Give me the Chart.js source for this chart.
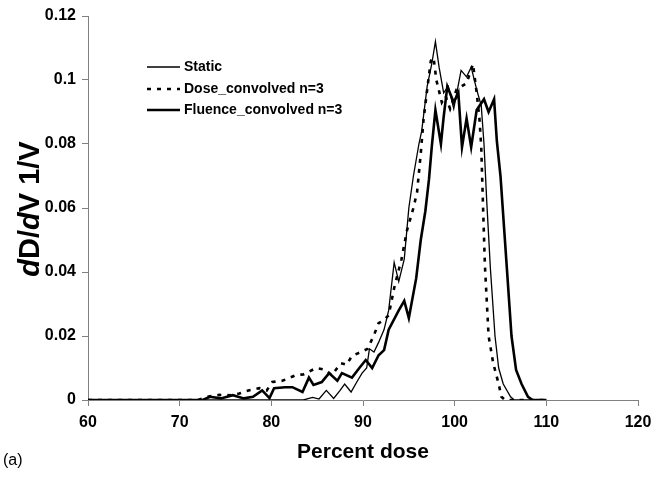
<!DOCTYPE html>
<html>
<head>
<meta charset="utf-8">
<script src="https://cdn.jsdelivr.net/npm/chart.js@4.4.0/dist/chart.umd.min.js"></script>
<style>
  html, body { margin: 0; padding: 0; background: #fff; }
  #wrap { width: 651px; height: 477px; position: relative; }
</style>
</head>
<body>
<div id="wrap"><canvas id="dvh" width="651" height="477"></canvas></div>
<script>
// Data (percent dose, dD/dV)
var staticDose = [60, 83.5, 84.5, 85.2, 86, 86.8, 87.5, 88, 88.7, 89.4, 89.9, 90.4, 90.7, 91.2, 91.7, 92.3, 92.8, 93.4, 93.9, 94.5, 95, 95.5, 96.1, 96.4, 97, 97.5, 97.9, 98.3, 98.8, 99.3, 99.9, 100.3, 100.7, 101.3, 101.8, 102.4, 102.9, 103.2, 103.5, 103.9, 104.4, 104.8, 105.3, 106.1, 106.5, 110];
var staticVal = [0, 0, 0.0008, 0.0003, 0.003, 0.0005, 0.003, 0.005, 0.0025, 0.006, 0.0084, 0.01, 0.016, 0.015, 0.018, 0.022, 0.028, 0.043, 0.037, 0.044, 0.06, 0.07, 0.08, 0.084, 0.098, 0.105, 0.112, 0.104, 0.096, 0.098, 0.091, 0.097, 0.103, 0.101, 0.104, 0.097, 0.092, 0.08, 0.062, 0.041, 0.02, 0.01, 0.005, 0.001, 0, 0];

var doseConvDose = [60, 72, 73, 74.3, 75.5, 76.5, 77.5, 78.7, 79.5, 80.1, 81.2, 82.7, 83.5, 84.9, 85.8, 86.6, 87.6, 88.2, 88.8, 89.8, 90.5, 91.2, 91.7, 92.3, 92.8, 93.4, 94.2, 94.8, 95.5, 95.9, 96.3, 96.6, 97, 97.4, 97.7, 98, 98.6, 99, 99.5, 100.2, 101.3, 102, 102.4, 102.7, 102.9, 103.1, 103.3, 103.7, 104.2, 104.8, 105.1, 105.5, 110];
var doseConvVal = [0, 0, 0.001, 0.0016, 0.0015, 0.002, 0.003, 0.0037, 0.003, 0.0056, 0.006, 0.0078, 0.008, 0.01, 0.0095, 0.0078, 0.0115, 0.011, 0.0138, 0.015, 0.016, 0.0203, 0.024, 0.025, 0.0265, 0.035, 0.044, 0.053, 0.06, 0.065, 0.077, 0.0875, 0.097, 0.106, 0.107, 0.1, 0.093, 0.095, 0.091, 0.097, 0.099, 0.105, 0.096, 0.088, 0.079, 0.06, 0.042, 0.02, 0.0116, 0.005, 0.001, 0, 0];

var fluenceDose = [60, 72.5, 73.3, 74.5, 75.8, 77, 78, 79, 79.8, 80.3, 81.5, 82.3, 83.4, 84.1, 84.6, 85.5, 86.3, 87.2, 87.7, 88.8, 89.6, 90.3, 91, 91.7, 92.3, 92.8, 93.9, 94.5, 95, 95.8, 96.3, 96.8, 97.2, 97.5, 97.9, 98.5, 98.8, 99.2, 99.9, 100.4, 100.8, 101.3, 101.8, 102.4, 103.2, 103.7, 104.3, 104.6, 105, 105.7, 106.2, 106.7, 107.3, 108, 108.5, 110];
var fluenceVal = [0, 0, 0.001, 0.0005, 0.0015, 0.0005, 0.001, 0.003, 0.0006, 0.0037, 0.004, 0.004, 0.0025, 0.007, 0.0047, 0.0056, 0.0084, 0.006, 0.0084, 0.007, 0.01, 0.0125, 0.01, 0.014, 0.0156, 0.022, 0.028, 0.031, 0.0256, 0.038, 0.05, 0.059, 0.069, 0.079, 0.0906, 0.08, 0.0885, 0.098, 0.093, 0.096, 0.079, 0.088, 0.079, 0.0906, 0.094, 0.09, 0.094, 0.081, 0.07, 0.041, 0.02, 0.0094, 0.005, 0.001, 0, 0];

var seriesNames = ['Static', 'Dose_convolved n=3', 'Fluence_convolved n=3'];
var xTicks = [60, 70, 80, 90, 100, 110, 120];
var yTicks = [0, 0.02, 0.04, 0.06, 0.08, 0.1, 0.12];

function toPoints(xs, ys) {
  var pts = [];
  for (var i = 0; i < xs.length; i++) pts.push({ x: xs[i], y: ys[i] });
  return pts;
}

var FONT = '"Liberation Sans", Arial, sans-serif';
var AXIS_GREY = '#808080';

// legend, y title and panel label drawn on the canvas
var extras = {
  id: 'extras',
  afterDraw: function (chart) {
    var ctx = chart.ctx;
    var sets = chart.data.datasets;
    ctx.save();
    ctx.font = 'bold 14px ' + FONT;
    ctx.textBaseline = 'middle';
    ctx.fillStyle = '#000';
    var rows = [67, 89, 110];
    for (var i = 0; i < sets.length; i++) {
      var y = rows[i];
      ctx.beginPath();
      ctx.strokeStyle = '#000';
      ctx.lineWidth = sets[i].borderWidth;
      ctx.setLineDash(sets[i].borderDash || []);
      ctx.moveTo(147, y);
      ctx.lineTo(180, y);
      ctx.stroke();
      ctx.setLineDash([]);
      ctx.fillText(seriesNames[i], 184, y);
    }

    // y axis title with italic d's
    var parts = [['d', true], ['D/', false], ['d', true], ['V 1/V', false]];
    ctx.translate(31, 209);
    ctx.rotate(-Math.PI / 2);
    var total = 0;
    for (var j = 0; j < parts.length; j++) {
      ctx.font = (parts[j][1] ? 'italic ' : '') + 'bold 29px ' + FONT;
      total += ctx.measureText(parts[j][0]).width;
    }
    var px = -total / 2;
    for (var k = 0; k < parts.length; k++) {
      ctx.font = (parts[k][1] ? 'italic ' : '') + 'bold 29px ' + FONT;
      ctx.textAlign = 'left';
      ctx.fillText(parts[k][0], px, 0);
      px += ctx.measureText(parts[k][0]).width;
    }
    ctx.restore();

    ctx.save();
    ctx.font = '16px ' + FONT;
    ctx.fillStyle = '#000';
    ctx.textBaseline = 'middle';
    ctx.fillText('(a)', 3, 461);
    ctx.restore();
  }
};

var ctx = document.getElementById('dvh').getContext('2d');
var dvhChart = new Chart(ctx, {
  type: 'line',
  data: {
    datasets: [
      {
        label: seriesNames[0],
        data: toPoints(staticDose, staticVal),
        borderColor: '#000',
        borderWidth: 1.3,
        pointRadius: 0,
        tension: 0
      },
      {
        label: seriesNames[1],
        data: toPoints(doseConvDose, doseConvVal),
        borderColor: '#000',
        borderWidth: 2.6,
        borderDash: [4, 6],
        pointRadius: 0,
        tension: 0
      },
      {
        label: seriesNames[2],
        data: toPoints(fluenceDose, fluenceVal),
        borderColor: '#000',
        borderWidth: 2.6,
        pointRadius: 0,
        tension: 0
      }
    ]
  },
  options: {
    responsive: false,
    animation: false,
    layout: { padding: { left: 0, right: 13, top: 16, bottom: 0 } },
    plugins: {
      legend: { display: false },
      tooltip: { enabled: false }
    },
    scales: {
      x: {
        type: 'linear',
        min: 60,
        max: 120,
        afterBuildTicks: function (scale) {
          scale.ticks = xTicks.map(function (v) { return { value: v }; });
        },
        afterFit: function (scale) {
          scale.height = 77;
          scale.paddingLeft = 0;
          scale.paddingRight = 0;
        },
        grid: { drawOnChartArea: false, drawTicks: true, tickLength: 6, tickColor: AXIS_GREY },
        border: { color: AXIS_GREY, width: 1 },
        ticks: { color: '#000', padding: 7, maxRotation: 0, font: { family: FONT, size: 16, weight: 'bold' } },
        title: {
          display: true,
          text: 'Percent dose',
          color: '#000',
          padding: { top: 2, bottom: 12 },
          font: { family: FONT, size: 21, weight: 'bold' }
        }
      },
      y: {
        min: 0,
        max: 0.12,
        afterBuildTicks: function (scale) {
          scale.ticks = yTicks.map(function (v) { return { value: v }; });
        },
        afterFit: function (scale) { scale.width = 88; },
        grid: { drawOnChartArea: false, drawTicks: true, tickLength: 6, tickColor: AXIS_GREY },
        border: { color: AXIS_GREY, width: 1 },
        ticks: {
          color: '#000',
          padding: 6,
          font: { family: FONT, size: 16, weight: 'bold' },
          callback: function (v) { return String(+v.toFixed(2)); }
        }
      }
    }
  },
  plugins: [extras]
});
</script>
</body>
</html>
